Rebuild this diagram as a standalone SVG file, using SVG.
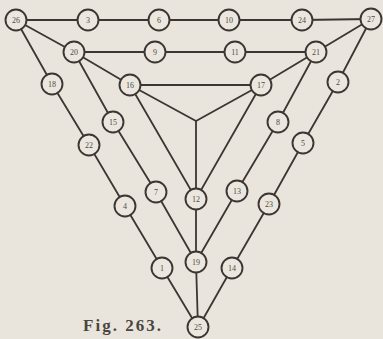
<svg xmlns="http://www.w3.org/2000/svg" width="383" height="339" viewBox="0 0 383 339">
<style>
.bg{fill:#e9e5dc}
.e{stroke:#3b3632;stroke-width:1.8;fill:none;stroke-linecap:round}
.n circle{fill:#ebe7df;stroke:#3b3632;stroke-width:1.9}
.n text{font-family:"Liberation Serif",serif;font-size:8px;fill:#4f4a45;text-anchor:middle;dominant-baseline:central}
.cap{font-family:"Liberation Serif",serif;font-size:17px;font-weight:bold;fill:#4a4540}
</style>
<rect class="bg" x="0" y="0" width="383" height="339"/>
<g id="connectors" class="e">
<polyline points="16,20 88,20 159,20 229,20 302,20 371,19"/>
<polyline points="74,52 155,52 235,52 316,52"/>
<polyline points="130,85 261,85"/>
<polyline points="16,20 52,84 89,145 125,206 162,268 198,328"/>
<polyline points="371,19 338,82 303,143 269,204 232,268 198,328"/>
<polyline points="16,20 74,52 130,85 196,121 261,85 316,52 371,19"/>
<polyline points="196,121 196,199 196,262 198,328"/>
<polyline points="74,52 113,122 156,192 196,262"/>
<polyline points="316,52 278,122 237,191 196,262"/>
<polyline points="130,85 196,199 261,85"/>
</g>
<g id="n26" class="n"><circle cx="16" cy="20" r="10.5"/><text x="16" y="20">26</text></g>
<g id="n3" class="n"><circle cx="88" cy="20" r="10.5"/><text x="88" y="20">3</text></g>
<g id="n6" class="n"><circle cx="159" cy="20" r="10.5"/><text x="159" y="20">6</text></g>
<g id="n10" class="n"><circle cx="229" cy="20" r="10.5"/><text x="229" y="20">10</text></g>
<g id="n24" class="n"><circle cx="302" cy="20" r="10.5"/><text x="302" y="20">24</text></g>
<g id="n27" class="n"><circle cx="371" cy="19" r="10.5"/><text x="371" y="19">27</text></g>
<g id="n20" class="n"><circle cx="74" cy="52" r="10.5"/><text x="74" y="52">20</text></g>
<g id="n9" class="n"><circle cx="155" cy="52" r="10.5"/><text x="155" y="52">9</text></g>
<g id="n11" class="n"><circle cx="235" cy="52" r="10.5"/><text x="235" y="52">11</text></g>
<g id="n21" class="n"><circle cx="316" cy="52" r="10.5"/><text x="316" y="52">21</text></g>
<g id="n18" class="n"><circle cx="52" cy="84" r="10.5"/><text x="52" y="84">18</text></g>
<g id="n16" class="n"><circle cx="130" cy="85" r="10.5"/><text x="130" y="85">16</text></g>
<g id="n17" class="n"><circle cx="261" cy="85" r="10.5"/><text x="261" y="85">17</text></g>
<g id="n2" class="n"><circle cx="338" cy="82" r="10.5"/><text x="338" y="82">2</text></g>
<g id="n15" class="n"><circle cx="113" cy="122" r="10.5"/><text x="113" y="122">15</text></g>
<g id="n8" class="n"><circle cx="278" cy="122" r="10.5"/><text x="278" y="122">8</text></g>
<g id="n22" class="n"><circle cx="89" cy="145" r="10.5"/><text x="89" y="145">22</text></g>
<g id="n5" class="n"><circle cx="303" cy="143" r="10.5"/><text x="303" y="143">5</text></g>
<g id="n7" class="n"><circle cx="156" cy="192" r="10.5"/><text x="156" y="192">7</text></g>
<g id="n13" class="n"><circle cx="237" cy="191" r="10.5"/><text x="237" y="191">13</text></g>
<g id="n12" class="n"><circle cx="196" cy="199" r="10.5"/><text x="196" y="199">12</text></g>
<g id="n4" class="n"><circle cx="125" cy="206" r="10.5"/><text x="125" y="206">4</text></g>
<g id="n23" class="n"><circle cx="269" cy="204" r="10.5"/><text x="269" y="204">23</text></g>
<g id="n19" class="n"><circle cx="196" cy="262" r="10.5"/><text x="196" y="262">19</text></g>
<g id="n1" class="n"><circle cx="162" cy="268" r="10.5"/><text x="162" y="268">1</text></g>
<g id="n14" class="n"><circle cx="232" cy="268" r="10.5"/><text x="232" y="268">14</text></g>
<g id="n25" class="n"><circle cx="198" cy="327" r="10.5"/><text x="198" y="327">25</text></g>
<text class="cap" x="83" y="331" textLength="78" lengthAdjust="spacing">Fig. 263.</text>
</svg>
